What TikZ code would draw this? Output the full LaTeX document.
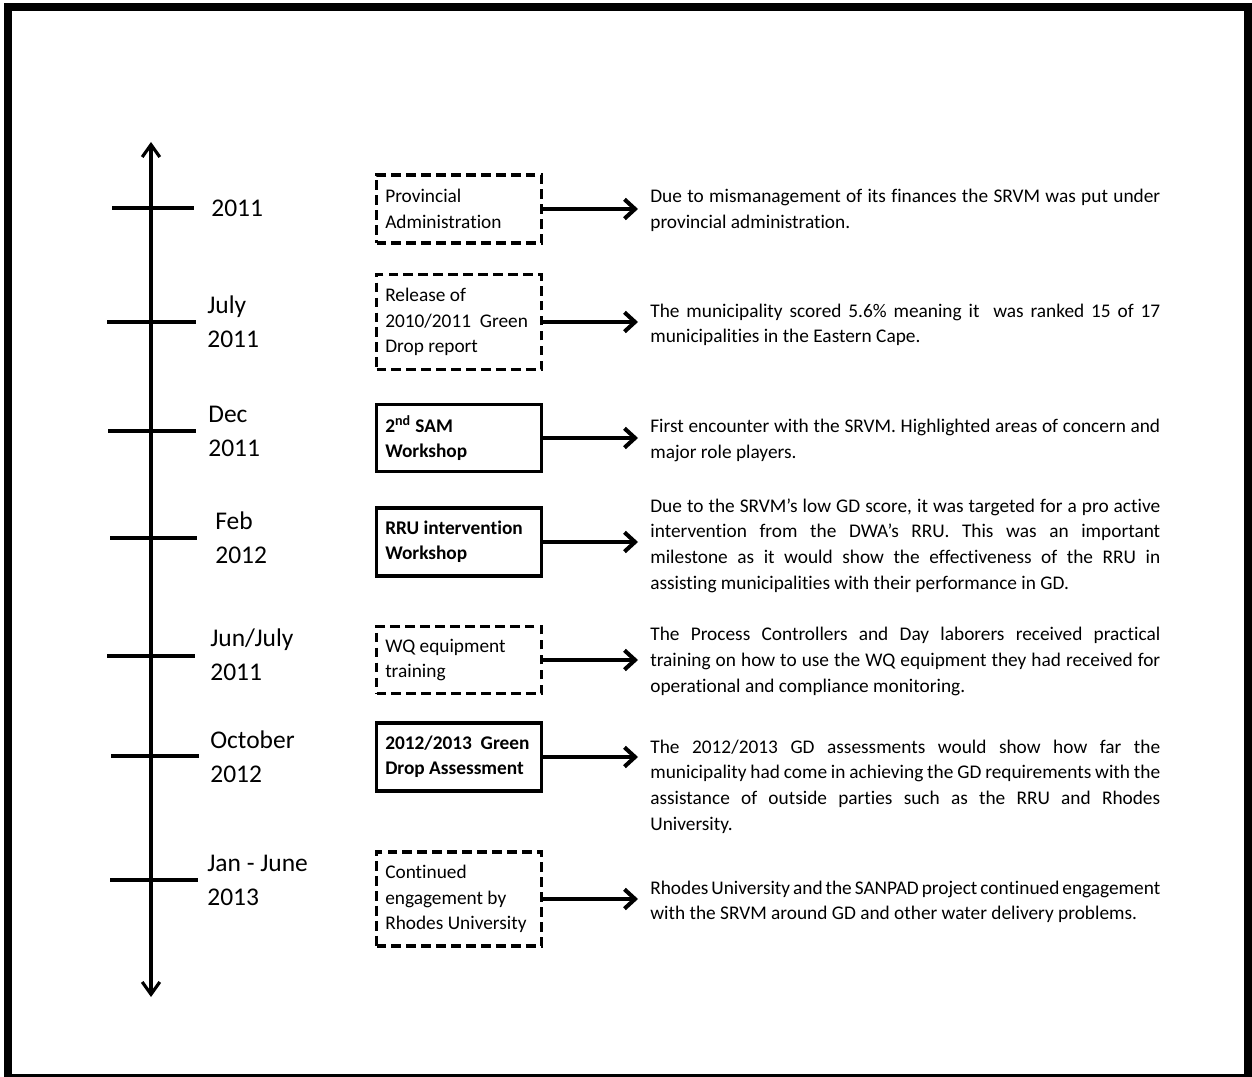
\documentclass[tikz,border=0pt]{standalone}
\usepackage{fontspec}
\setmainfont[Ligatures=NoCommon]{Carlito}
\usetikzlibrary{arrows.meta,positioning}
\begin{document}
\begin{tikzpicture}[x=0.02cm,y=-0.02cm]
\tikzstyle{every node}+=[inner sep=0pt]
\tikzstyle{datelbl}=[anchor=west,align=left,font=\fontsize{14.5}{19.3}\selectfont]
\tikzstyle{evbox}=[draw,line width=2pt,text width=2.95cm,inner xsep=0.175cm,align=flush left,font=\fontsize{11}{14.5}\selectfont]
\tikzstyle{dashbox}=[evbox,dash pattern=on 5.5pt off 3pt]
\tikzstyle{solidbox}=[evbox,font=\fontsize{11}{14.5}\selectfont\bfseries]
\tikzstyle{note}=[anchor=west,text width=10.2cm,inner xsep=0.24cm,align=justify,font=\fontsize{11}{14.6}\selectfont]
\tikzstyle{link}=[line width=2.3pt,-{Straight Barb[length=6pt,width=11pt]}]
\tikzstyle{tick}=[line width=2.3pt]
\useasboundingbox (0,0) rectangle (1252,1077);
\draw [line width=4.5pt] (8,7) rectangle (1248,1078);
\draw [line width=1.8pt,{Straight Barb[length=7pt,width=10pt]}-{Straight Barb[length=7pt,width=10pt]}] (151,142) -- (151,997);
\draw [tick] (112,208) -- (194,208);
\draw [tick] (107,322) -- (196,322);
\draw [tick] (108,431) -- (196,431);
\draw [tick] (110,538) -- (197,538);
\draw [tick] (107,656) -- (195,656);
\draw [tick] (111,756) -- (199,756);
\draw [tick] (110,880) -- (198,880);
\node [datelbl] (d1) at (211,208) {2011};
\node [datelbl] (d2) at (207,322) {July\\2011};
\node [datelbl] (d3) at (208,431) {Dec\\2011};
\node [datelbl] (d4) at (215,538) {Feb\\2012};
\node [datelbl] (d5) at (210,655) {Jun/July\\2011};
\node [datelbl] (d6) at (210,757) {October\\2012};
\node [datelbl] (d7) at (207,880) {Jan - June\\2013};
\node [dashbox,minimum height=1.36cm] (b1) at (459,209) {Provincial\\Administration};
\node [dashbox,minimum height=1.9cm] (b2) at (459,322) {Release of\\2010/2011~ Green\\Drop report};
\node [solidbox,minimum height=1.34cm] (b3) at (459,438) {2\textsuperscript{\footnotesize nd} SAM\\Workshop};
\node [solidbox,minimum height=1.36cm] (b4) at (459,542) {RRU intervention\\Workshop};
\node [dashbox,minimum height=1.34cm] (b5) at (459,660) {WQ equipment\\training};
\node [solidbox,minimum height=1.36cm] (b6) at (459,757) {2012/2013~ Green\\Drop Assessment};
\node [dashbox,minimum height=1.88cm] (b7) at (459,899) {Continued\\engagement by\\Rhodes University};
\node [note] (n1) at (638,210.5) {Due to mismanagement of its finances the SRVM was put under\linebreak provincial administration.};
\node [note] (n2) at (638,325) {The municipality scored 5.6\% meaning it~ was ranked 15 of 17\linebreak municipalities in the Eastern Cape.};
\node [note] (n3) at (638,440.5) {First encounter with the SRVM. Highlighted areas of concern and\linebreak major role players.};
\node [note] (n4) at (638,545.5) {Due to the SRVM’s low GD score, it was targeted for a pro active\linebreak intervention from the DWA’s RRU. This was an important\linebreak milestone as it would show the effectiveness of the RRU in\linebreak assisting municipalities with their performance in GD.};
\node [note] (n5) at (638,661.5) {The Process Controllers and Day laborers received practical\linebreak training on how to use the WQ equipment they had received for\linebreak operational and compliance monitoring.};
\node [note] (n6) at (638,786.5) {The 2012/2013 GD assessments would show how far the\linebreak municipality had come in achieving the GD requirements with the\linebreak assistance of outside parties such as the RRU and Rhodes\linebreak University.};
\node [note] (n7) at (638,902) {Rhodes University and the SANPAD project continued engagement\linebreak with the SRVM around GD and other water delivery problems.};
\draw [link] (b1.east) -- (b1.east -| n1.west);
\draw [link] (b2.east) -- (b2.east -| n2.west);
\draw [link] (b3.east) -- (b3.east -| n3.west);
\draw [link] (b4.east) -- (b4.east -| n4.west);
\draw [link] (b5.east) -- (b5.east -| n5.west);
\draw [link] (b6.east) -- (b6.east -| n6.west);
\draw [link] (b7.east) -- (b7.east -| n7.west);
\end{tikzpicture}
\end{document}
